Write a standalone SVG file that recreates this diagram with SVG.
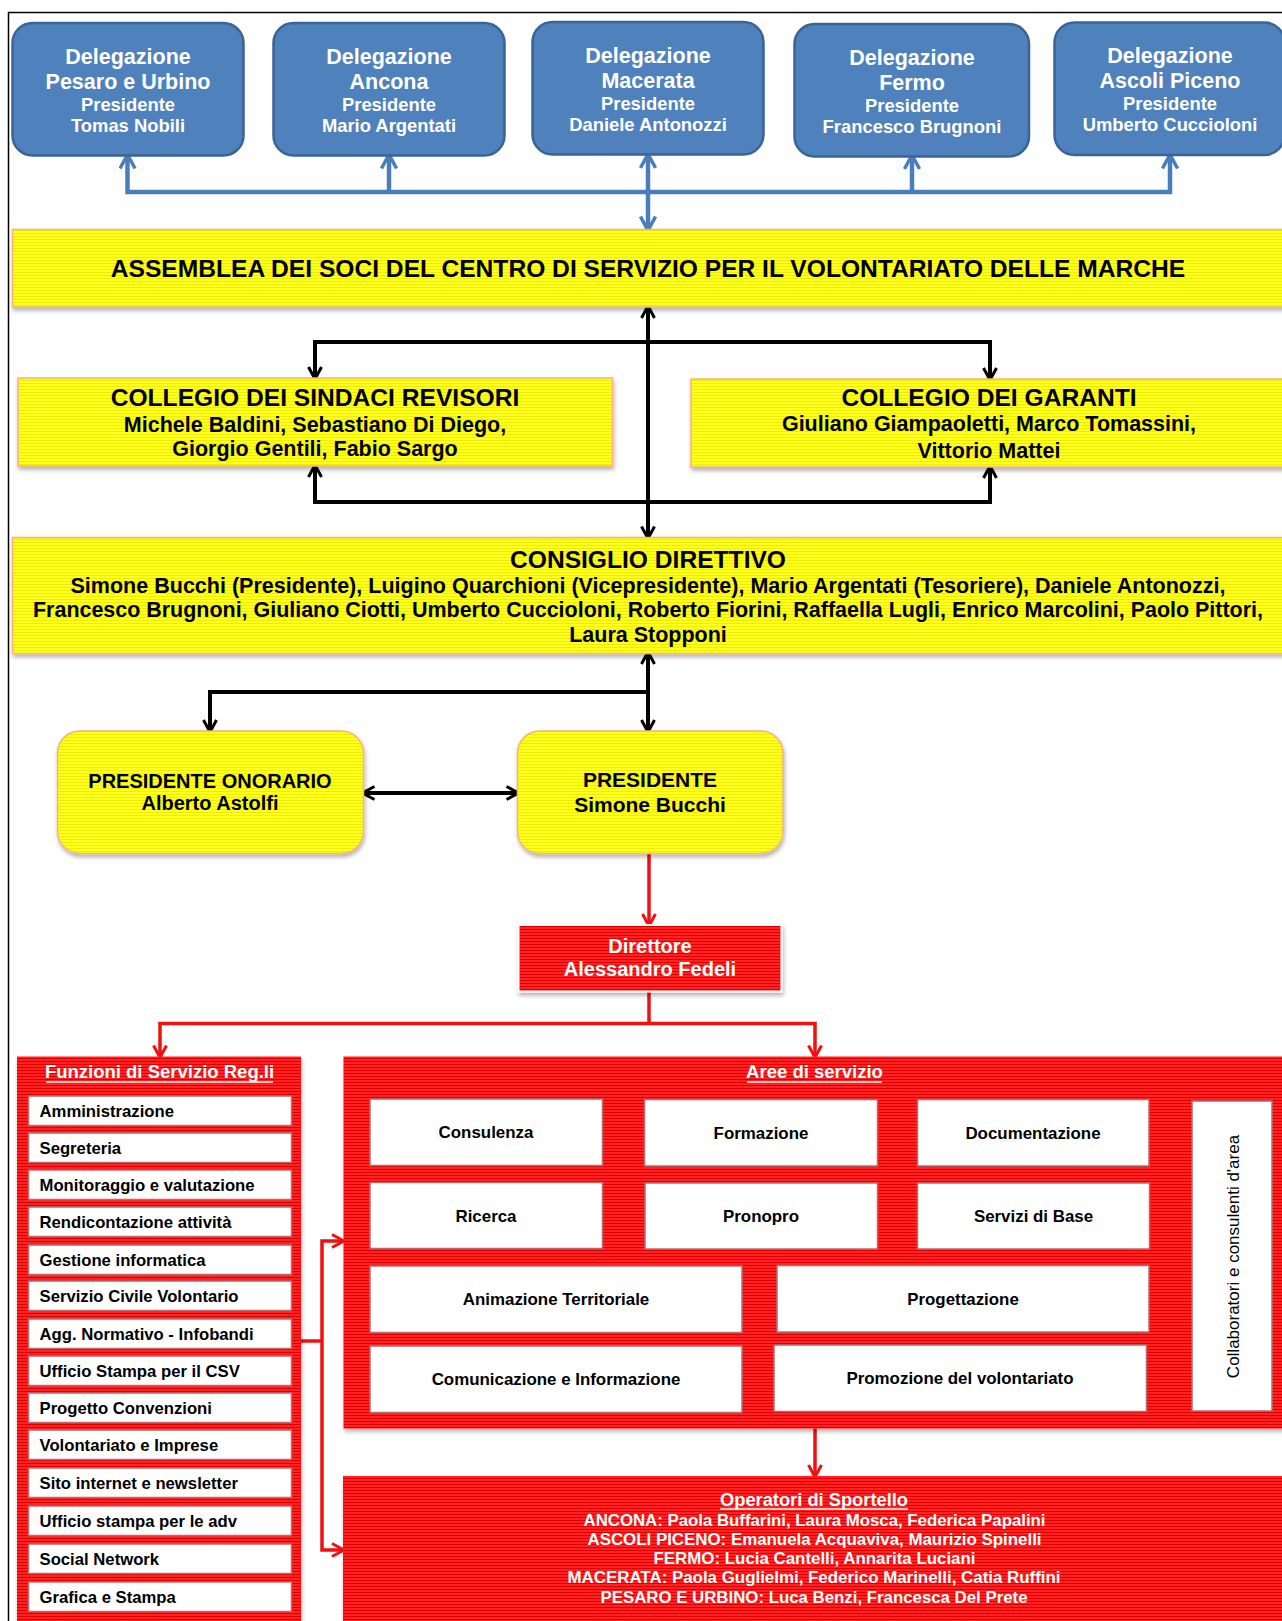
<svg xmlns="http://www.w3.org/2000/svg" width="1282" height="1621" viewBox="0 0 1282 1621">
<style>
text{font-family:"Liberation Sans",Arial,Helvetica,sans-serif;font-weight:bold;text-anchor:middle;fill:#000}
.deleg rect{fill:#4F81BD;stroke:#3A6396;stroke-width:2.5}
.deleg text{fill:#fff}
.t1{font-size:21.5px}
.t2{font-size:18.4px}
.yb{fill:url(#ystripe);stroke:#F7B27A;stroke-width:1.5;filter:url(#sh)}
.rb{fill:url(#rstripe);filter:url(#sh)}
.wb{fill:#fff;stroke:#B86A6A;stroke-width:1.5}
.hd{font-size:24.6px}
.nm{font-size:21.5px}
.item{font-size:16.7px;text-anchor:start}
.area{font-size:16.9px}
.wt{fill:#fff}
.ul{stroke:#fff;stroke-width:1.5}
.cb{fill:none;stroke:#000;stroke-width:4}
.cbl{fill:none;stroke:#4A7EBB;stroke-width:4.5}
.cr{fill:none;stroke:#F01010;stroke-width:3.5}
</style>
<defs>
<pattern id="ystripe" width="4" height="3" patternUnits="userSpaceOnUse"><rect width="4" height="3" fill="#FFFF22"/><rect y="2" width="4" height="1" fill="#F0EE00"/></pattern>
<pattern id="rstripe" width="4" height="3" patternUnits="userSpaceOnUse"><rect width="4" height="3" fill="#FF2222"/><rect y="2" width="4" height="1" fill="#DE0505"/></pattern>
<filter id="sh" x="-5%" y="-10%" width="110%" height="130%"><feDropShadow dx="1" dy="3" stdDeviation="2" flood-color="#000" flood-opacity="0.3"/></filter>
<marker id="ab" viewBox="0 0 16 16" refX="13" refY="8" markerWidth="16" markerHeight="16" markerUnits="userSpaceOnUse" orient="auto-start-reverse"><path d="M2,1.5 L14,8 L2,14.5" fill="none" stroke="#000" stroke-width="3"/></marker>
<marker id="abl" viewBox="0 0 18 18" refX="15" refY="9" markerWidth="18" markerHeight="18" markerUnits="userSpaceOnUse" orient="auto-start-reverse"><path d="M2,1.5 L16,9 L2,16.5" fill="none" stroke="#4A7EBB" stroke-width="3.5"/></marker>
<marker id="ar" viewBox="0 0 16 16" refX="13" refY="8" markerWidth="16" markerHeight="16" markerUnits="userSpaceOnUse" orient="auto-start-reverse"><path d="M2,1.5 L14,8 L2,14.5" fill="none" stroke="#F01010" stroke-width="3"/></marker>
</defs>
<rect width="1282" height="1621" fill="#fff"/>
<rect x="8.5" y="12.5" width="1300" height="1640" fill="none" stroke="#000" stroke-width="1.5"/>

<g id="connectors">
<path class="cbl" d="M127.5,155.5 V192 H1170 V155.5" marker-start="url(#abl)" marker-end="url(#abl)"/>
<path class="cbl" d="M389,155.5 V192" marker-start="url(#abl)"/>
<path class="cbl" d="M912,156 V192" marker-start="url(#abl)"/>
<path class="cbl" d="M648,155 V229.5" marker-start="url(#abl)" marker-end="url(#abl)"/>
<path class="cb" d="M648,307 V537.5" marker-start="url(#ab)" marker-end="url(#ab)"/>
<path class="cb" d="M315,378 V342 H990 V379" marker-start="url(#ab)" marker-end="url(#ab)"/>
<path class="cb" d="M315,466 V502 H990 V467" marker-start="url(#ab)" marker-end="url(#ab)"/>
<path class="cb" d="M648,653 V731" marker-start="url(#ab)" marker-end="url(#ab)"/>
<path class="cb" d="M210,731 V692 H648"  marker-start="url(#ab)"/>
<path class="cb" d="M363.5,793 H517.5" marker-start="url(#ab)" marker-end="url(#ab)"/>
<path class="cr" d="M649,853.5 V925" marker-end="url(#ar)"/>
<path class="cr" d="M649,991.5 V1023.5"/>
<path class="cr" d="M160,1056.5 V1023.5 H815 V1056.5" marker-start="url(#ar)" marker-end="url(#ar)"/>
<path class="cr" d="M815,1428.5 V1476" marker-end="url(#ar)"/>
<path class="cr" d="M301,1341 H322"/>
<path class="cr" d="M343,1241 H322 V1550 H343" marker-start="url(#ar)" marker-end="url(#ar)"/>
</g>

<g id="del-pesaro" class="deleg">
<rect x="12.5" y="23" width="231" height="132.5" rx="20"/>
<text class="t1" x="128" y="64">Delegazione</text>
<text class="t1" x="128" y="89">Pesaro e Urbino</text>
<text class="t2" x="128" y="111">Presidente</text>
<text class="t2" x="128" y="132">Tomas Nobili</text>
</g>
<g id="del-ancona" class="deleg">
<rect x="273.5" y="23" width="231" height="132.5" rx="20"/>
<text class="t1" x="389" y="64">Delegazione</text>
<text class="t1" x="389" y="89">Ancona</text>
<text class="t2" x="389" y="111">Presidente</text>
<text class="t2" x="389" y="132">Mario Argentati</text>
</g>
<g id="del-macerata" class="deleg">
<rect x="532.5" y="22" width="231" height="132.5" rx="20"/>
<text class="t1" x="648" y="63">Delegazione</text>
<text class="t1" x="648" y="88">Macerata</text>
<text class="t2" x="648" y="110">Presidente</text>
<text class="t2" x="648" y="131">Daniele Antonozzi</text>
</g>
<g id="del-fermo" class="deleg">
<rect x="794.5" y="24" width="234.5" height="132.5" rx="20"/>
<text class="t1" x="912" y="64.5">Delegazione</text>
<text class="t1" x="912" y="89.5">Fermo</text>
<text class="t2" x="912" y="111.5">Presidente</text>
<text class="t2" x="912" y="132.5">Francesco Brugnoni</text>
</g>
<g id="del-ascoli" class="deleg">
<rect x="1054.5" y="22.5" width="230" height="132.5" rx="20"/>
<text class="t1" x="1170" y="63">Delegazione</text>
<text class="t1" x="1170" y="88">Ascoli Piceno</text>
<text class="t2" x="1170" y="110">Presidente</text>
<text class="t2" x="1170" y="131">Umberto Cuccioloni</text>
</g>

<g id="assemblea">
<rect class="yb" x="12.5" y="229.5" width="1275" height="77.5"/>
<text class="hd" x="648" y="277">ASSEMBLEA DEI SOCI DEL CENTRO DI SERVIZIO PER IL VOLONTARIATO DELLE MARCHE</text>
</g>

<g id="sindaci">
<rect class="yb" x="18" y="378" width="594.5" height="88"/>
<text class="hd" x="315" y="406">COLLEGIO DEI SINDACI REVISORI</text>
<text class="nm" x="315" y="431.5">Michele Baldini, Sebastiano Di Diego,</text>
<text class="nm" x="315" y="456">Giorgio Gentili, Fabio Sargo</text>
</g>

<g id="garanti">
<rect class="yb" x="691" y="379" width="600" height="88"/>
<text class="hd" x="989" y="406">COLLEGIO DEI GARANTI</text>
<text class="nm" x="989" y="431">Giuliano Giampaoletti, Marco Tomassini,</text>
<text class="nm" x="989" y="458">Vittorio Mattei</text>
</g>

<g id="consiglio">
<rect class="yb" x="12.5" y="537.5" width="1275" height="116"/>
<text class="hd" x="648" y="568">CONSIGLIO DIRETTIVO</text>
<text class="nm" x="648" y="592.5" textLength="1155" lengthAdjust="spacingAndGlyphs">Simone Bucchi (Presidente), Luigino Quarchioni (Vicepresidente), Mario Argentati (Tesoriere), Daniele Antonozzi,</text>
<text class="nm" x="648" y="617" textLength="1230" lengthAdjust="spacingAndGlyphs">Francesco Brugnoni, Giuliano Ciotti, Umberto Cuccioloni, Roberto Fiorini, Raffaella Lugli, Enrico Marcolini, Paolo Pittori,</text>
<text class="nm" x="648" y="642">Laura Stopponi</text>
</g>

<g id="onorario">
<rect class="yb" x="57.5" y="731" width="306" height="122.5" rx="22"/>
<text x="210" y="788" font-size="20">PRESIDENTE ONORARIO</text>
<text x="210" y="810" font-size="20">Alberto Astolfi</text>
</g>

<g id="presidente">
<rect class="yb" x="517.5" y="731" width="265.5" height="122.5" rx="22"/>
<text x="650" y="787" font-size="21">PRESIDENTE</text>
<text x="650" y="812" font-size="21">Simone Bucchi</text>
</g>

<g id="direttore">
<rect class="rb" x="518.5" y="925" width="263" height="66.5" stroke="#fff" stroke-width="2"/>
<text class="wt" x="650" y="953" font-size="20">Direttore</text>
<text class="wt" x="650" y="975.5" font-size="20">Alessandro Fedeli</text>
</g>

<g id="funzioni">
<rect class="rb" x="17" y="1056.5" width="284" height="590"/>
<text class="wt" x="159.5" y="1078" font-size="18.5">Funzioni di Servizio Reg.li</text>
<line class="ul" x1="46" y1="1082" x2="273" y2="1082"/>
<rect class="wb" x="28.5" y="1096" width="263" height="29.5"/>
<text class="item" x="39.5" y="1117">Amministrazione</text>
<rect class="wb" x="28.5" y="1133" width="263" height="29.5"/>
<text class="item" x="39.5" y="1154">Segreteria</text>
<rect class="wb" x="28.5" y="1170" width="263" height="29.5"/>
<text class="item" x="39.5" y="1191">Monitoraggio e valutazione</text>
<rect class="wb" x="28.5" y="1207" width="263" height="29.5"/>
<text class="item" x="39.5" y="1228">Rendicontazione attività</text>
<rect class="wb" x="28.5" y="1245" width="263" height="29.5"/>
<text class="item" x="39.5" y="1266">Gestione informatica</text>
<rect class="wb" x="28.5" y="1281" width="263" height="29.5"/>
<text class="item" x="39.5" y="1302">Servizio Civile Volontario</text>
<rect class="wb" x="28.5" y="1319" width="263" height="29.5"/>
<text class="item" x="39.5" y="1340">Agg. Normativo - Infobandi</text>
<rect class="wb" x="28.5" y="1356" width="263" height="29.5"/>
<text class="item" x="39.5" y="1377">Ufficio Stampa per il CSV</text>
<rect class="wb" x="28.5" y="1393" width="263" height="29.5"/>
<text class="item" x="39.5" y="1414">Progetto Convenzioni</text>
<rect class="wb" x="28.5" y="1430" width="263" height="29.5"/>
<text class="item" x="39.5" y="1451">Volontariato e Imprese</text>
<rect class="wb" x="28.5" y="1468" width="263" height="29.5"/>
<text class="item" x="39.5" y="1489">Sito internet e newsletter</text>
<rect class="wb" x="28.5" y="1506" width="263" height="29.5"/>
<text class="item" x="39.5" y="1527">Ufficio stampa per le adv</text>
<rect class="wb" x="28.5" y="1544" width="263" height="29.5"/>
<text class="item" x="39.5" y="1565">Social Network</text>
<rect class="wb" x="28.5" y="1582" width="263" height="29.5"/>
<text class="item" x="39.5" y="1603">Grafica e Stampa</text>
</g>

<g id="aree">
<rect class="rb" x="343.5" y="1056.5" width="950" height="372"/>
<text class="wt" x="814.5" y="1078" font-size="18.5">Aree di servizio</text>
<line class="ul" x1="747" y1="1082" x2="882" y2="1082"/>
<rect class="wb" x="370" y="1099" width="232.5" height="66.5"/>
<text class="area" x="486" y="1138">Consulenza</text>
<rect class="wb" x="644.5" y="1099.5" width="233" height="66.5"/>
<text class="area" x="761" y="1138.5">Formazione</text>
<rect class="wb" x="917.5" y="1099.5" width="231.5" height="66.5"/>
<text class="area" x="1033" y="1139">Documentazione</text>
<rect class="wb" x="370" y="1182.5" width="232.5" height="66"/>
<text class="area" x="486" y="1221.5">Ricerca</text>
<rect class="wb" x="645" y="1183" width="232.5" height="66"/>
<text class="area" x="761" y="1222">Pronopro</text>
<rect class="wb" x="917.5" y="1183" width="232" height="66"/>
<text class="area" x="1033.5" y="1222">Servizi di Base</text>
<rect class="wb" x="370" y="1266" width="372" height="66.5"/>
<text class="area" x="556" y="1305">Animazione Territoriale</text>
<rect class="wb" x="777" y="1265.5" width="372" height="66.5"/>
<text class="area" x="963" y="1304.5">Progettazione</text>
<rect class="wb" x="370" y="1346" width="372" height="66.5"/>
<text class="area" x="556" y="1385">Comunicazione e Informazione</text>
<rect class="wb" x="774" y="1345" width="372.5" height="66.5"/>
<text class="area" x="960" y="1384">Promozione del volontariato</text>
<rect class="wb" x="1192" y="1101" width="80" height="310"/>
<text transform="translate(1239,1256.5) rotate(-90)" font-size="17" style="font-weight:normal">Collaboratori e consulenti d'area</text>
</g>

<g id="operatori">
<rect class="rb" x="343" y="1476" width="950" height="170"/>
<text class="wt" x="814" y="1506" font-size="18" textLength="188" lengthAdjust="spacingAndGlyphs">Operatori di Sportello</text>
<line class="ul" x1="720" y1="1509" x2="908" y2="1509"/>
<text class="wt" x="814.5" y="1526" font-size="16" textLength="462" lengthAdjust="spacingAndGlyphs">ANCONA: Paola Buffarini, Laura Mosca, Federica Papalini</text>
<text class="wt" x="814.5" y="1545" font-size="16" textLength="454" lengthAdjust="spacingAndGlyphs">ASCOLI PICENO: Emanuela Acquaviva, Maurizio Spinelli</text>
<text class="wt" x="814.5" y="1564" font-size="16" textLength="322" lengthAdjust="spacingAndGlyphs">FERMO: Lucia Cantelli, Annarita Luciani</text>
<text class="wt" x="814" y="1583" font-size="16" textLength="493" lengthAdjust="spacingAndGlyphs">MACERATA: Paola Guglielmi, Federico Marinelli, Catia Ruffini</text>
<text class="wt" x="814" y="1602.5" font-size="16" textLength="427" lengthAdjust="spacingAndGlyphs">PESARO E URBINO: Luca Benzi, Francesca Del Prete</text>
</g>
</svg>
